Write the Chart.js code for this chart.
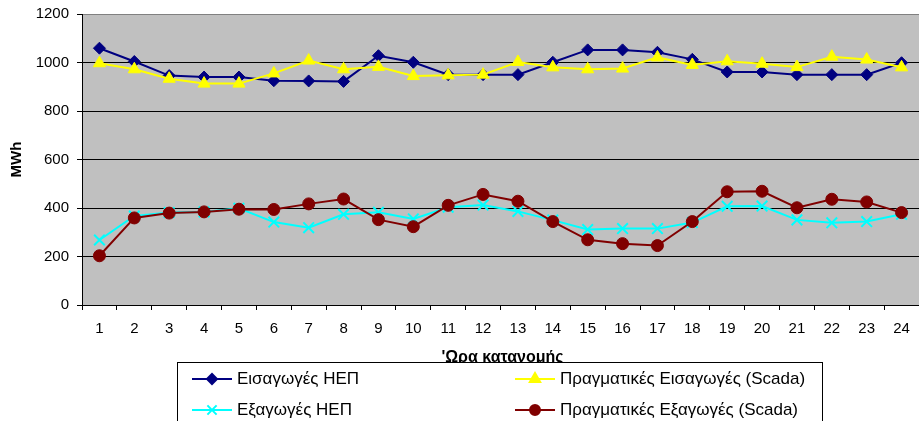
<!DOCTYPE html>
<html>
<head>
<meta charset="utf-8">
<script src="https://cdn.jsdelivr.net/npm/chart.js@4"></script>
<style>
  html, body { margin: 0; padding: 0; background: #fff; }
  #wrap { width: 919px; height: 421px; position: relative; }
</style>
</head>
<body>
<div id="wrap"><canvas id="myChart"></canvas></div>
<script>
const hours = ['1','2','3','4','5','6','7','8','9','10','11','12','13','14','15','16','17','18','19','20','21','22','23','24']

const imports_hep = [1059, 1004, 946, 940, 940, 925, 924, 922, 1028, 1001, 950, 950, 950, 1001, 1052, 1052, 1042, 1013, 961, 961, 950, 950, 950, 999]
const imports_scada = [997, 972, 933, 913, 913, 955, 1008, 972, 982, 944, 947, 950, 1002, 980, 972, 975, 1021, 990, 1005, 995, 981, 1024, 1012, 980]
const exports_hep = [268, 367, 381, 384, 399, 342, 319, 374, 382, 355, 403, 412, 386, 350, 311, 315, 315, 340, 407, 408, 351, 339, 344, 374]
const exports_scada = [203, 359, 379, 384, 395, 394, 417, 437, 352, 323, 411, 456, 428, 344, 269, 253, 245, 344, 467, 469, 401, 436, 425, 381]

const series_names = ['Εισαγωγές ΗΕΠ', 'Πραγματικές Εισαγωγές (Scada)', 'Εξαγωγές ΗΕΠ', 'Πραγματικές Εξαγωγές (Scada)']

const FONT = "'Liberation Sans', Arial, sans-serif"
Chart.defaults.font.family = FONT
Chart.defaults.font.size = 15
Chart.defaults.color = '#000'

function makeSet(name, values, color, style, radius, order) {
  return {
    label: name,
    data: values,
    borderColor: color,
    backgroundColor: color,
    borderWidth: 2,
    pointStyle: style,
    pointRadius: radius,
    pointHoverRadius: radius,
    pointBorderWidth: style == 'crossRot' ? 2 : 1,
    tension: 0,
    order: order
  }
}

const data = {
  labels: hours,
  datasets: [
    makeSet(series_names[0], imports_hep, '#000080', 'rectRot', 6, 4),
    makeSet(series_names[1], imports_scada, '#FFFF00', 'triangle', 7, 3),
    makeSet(series_names[2], exports_hep, '#00FFFF', 'crossRot', 7.5, 2),
    makeSet(series_names[3], exports_scada, '#800000', 'circle', 6, 1)
  ]
}

// grey plot background
const plotBg = {
  id: 'plotBg',
  beforeDraw(chart) {
    const a = chart.chartArea
    const ctx = chart.ctx
    ctx.save()
    ctx.fillStyle = '#C0C0C0'
    ctx.fillRect(a.left, a.top, a.right - a.left, a.bottom - a.top)
    ctx.restore()
  }
}

// x title + legend box like the excel one (box covers the bottom of the title)
const excelLegend = {
  id: 'excelLegend',
  afterDraw(chart) {
    const ctx = chart.ctx
    const a = chart.chartArea
    ctx.save()
    ctx.fillStyle = '#000'
    ctx.font = 'bold 16px ' + FONT
    ctx.textAlign = 'center'
    ctx.textBaseline = 'alphabetic'
    ctx.fillText("'Ωρα κατανομής", (a.left + a.right) / 2 + 2, 362)

    ctx.fillStyle = '#fff'
    ctx.fillRect(177.5, 362.5, 645, 70)
    ctx.strokeStyle = '#000'
    ctx.lineWidth = 1
    ctx.strokeRect(177.5, 362.5, 645, 70)

    const cols = [192, 515]
    const rows = [379, 410]
    chart.data.datasets.forEach((ds, i) => {
      const x0 = cols[i % 2]
      const y = rows[Math.floor(i / 2)]
      ctx.strokeStyle = ds.borderColor
      ctx.lineWidth = 2
      ctx.beginPath()
      ctx.moveTo(x0, y)
      ctx.lineTo(x0 + 40, y)
      ctx.stroke()
      ctx.fillStyle = ds.backgroundColor
      Chart.helpers.drawPoint(ctx, {
        pointStyle: ds.pointStyle,
        radius: ds.pointRadius - 1,
        rotation: 0,
        borderWidth: ds.pointBorderWidth
      }, x0 + 20, y)
      ctx.fillStyle = '#000'
      ctx.font = '17px ' + FONT
      ctx.textAlign = 'left'
      ctx.textBaseline = 'middle'
      ctx.fillText(ds.label, x0 + 45, y)
    })
    ctx.restore()
  }
}

const config = {
  type: 'line',
  data: data,
  options: {
    responsive: true,
    maintainAspectRatio: false,
    animation: false,
    layout: { autoPadding: false, padding: { top: 14, right: 0, left: 0, bottom: 0 } },
    plugins: {
      legend: { display: false },
      tooltip: { enabled: false }
    },
    scales: {
      x: {
        offset: true,
        afterFit(scale) {
          scale.height = 116
          scale.paddingLeft = 0
          scale.paddingRight = 0
        },
        border: { color: '#000', width: 1 },
        grid: {
          offset: true,
          drawOnChartArea: false,
          drawTicks: true,
          tickLength: 5,
          color: '#000'
        },
        ticks: { padding: 10, maxRotation: 0, autoSkip: false }
      },
      y: {
        min: 0,
        max: 1200,
        afterFit(scale) {
          scale.width = 82
          scale.paddingTop = 0
          scale.paddingBottom = 0
        },
        border: { color: '#000', width: 1 },
        grid: {
          color: (c) => c.tick && c.tick.value == 1200 ? '#808080' : '#000',
          lineWidth: 1,
          tickLength: 5,
          tickColor: '#000'
        },
        ticks: { stepSize: 200, padding: 8, callback: (v) => String(v) },
        title: {
          display: true,
          text: 'MWh',
          font: { weight: 'bold', size: 15 },
          padding: { top: 8, bottom: 0 }
        }
      }
    }
  },
  plugins: [plotBg, excelLegend]
}

const myChart = new Chart(document.getElementById('myChart'), config)
</script>
</body>
</html>
